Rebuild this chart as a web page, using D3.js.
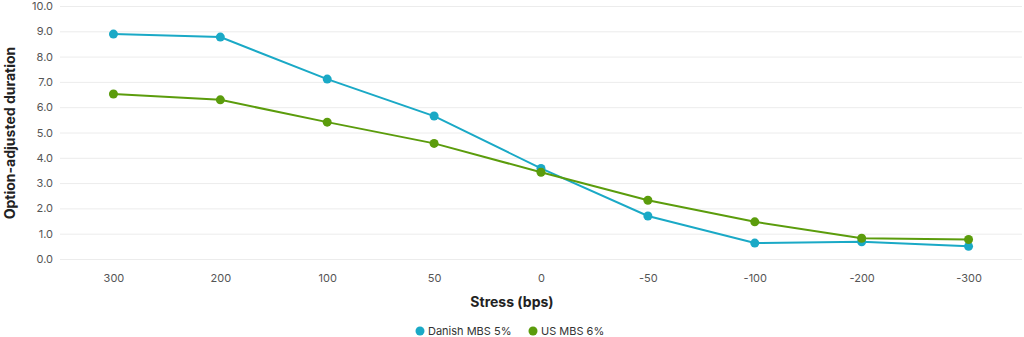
<!DOCTYPE html>
<html>
<head>
<meta charset="utf-8">
<script src="https://cdn.jsdelivr.net/npm/d3@7"></script>
<style>
  body { margin: 0; background: #fff; }
  svg { font-family: Inter, "Noto Sans", sans-serif; }
</style>
</head>
<body>
<div id="chart"></div>
<script>
var categories = ["300", "200", "100", "50", "0", "-50", "-100", "-200", "-300"];
var danish = [8.89, 8.77, 7.11, 5.65, 3.58, 1.70, 0.63, 0.68, 0.50];
var us = [6.52, 6.29, 5.41, 4.57, 3.43, 2.32, 1.47, 0.82, 0.77];
var yTicks = [0, 1, 2, 3, 4, 5, 6, 7, 8, 9, 10];
var seriesNames = ["Danish MBS 5%", "US MBS 6%"];
var seriesColors = ["#1aa9c6", "#5b9c0c"];

var width = 1024, height = 337;
var margin = {top: 6, right: 2, bottom: 78, left: 60};

var svg = d3.select("#chart").append("svg")
    .attr("width", width)
    .attr("height", height);

var x = d3.scalePoint()
    .domain(categories)
    .range([margin.left, width - margin.right])
    .padding(0.5);

var y = d3.scaleLinear()
    .domain([0, 10])
    .range([259, margin.top]);

// grid
svg.append("g")
    .selectAll("line")
    .data(yTicks)
    .enter().append("line")
    .attr("x1", margin.left)
    .attr("x2", width - margin.right)
    .attr("y1", function(d) { return y(d) + 0.5; })
    .attr("y2", function(d) { return y(d) + 0.5; })
    .attr("stroke", "#ececec")
    .attr("stroke-width", 1);

// y axis
var yAxis = svg.append("g")
    .attr("transform", "translate(" + 53 + ",0)")
    .call(d3.axisLeft(y).tickValues(yTicks).tickFormat(d3.format(".1f")).tickSize(0).tickPadding(0));
yAxis.select(".domain").remove();
yAxis.selectAll("text").attr("fill", "#555").attr("font-size", 11).attr("font-family", "Inter, sans-serif");

// x axis
var xAxis = svg.append("g")
    .attr("transform", "translate(0," + 274 + ")")
    .call(d3.axisBottom(x).tickSize(0).tickPadding(0));
xAxis.select(".domain").remove();
xAxis.selectAll("text").attr("fill", "#555").attr("font-size", 11).attr("font-family", "Inter, sans-serif");

// titles
svg.append("text")
    .attr("x", 512)
    .attr("y", 307)
    .attr("text-anchor", "middle")
    .attr("font-size", 14)
    .attr("font-weight", "bold")
    .attr("fill", "#222")
    .text("Stress (bps)");

svg.append("text")
    .attr("transform", "translate(15,133) rotate(-90)")
    .attr("text-anchor", "middle")
    .attr("font-size", 14)
    .attr("font-weight", "bold")
    .attr("fill", "#222")
    .text("Option-adjusted duration");

// lines
var allSeries = [danish, us];
var line = d3.line()
    .x(function(d, i) { return x(categories[i]); })
    .y(function(d) { return y(d); });

allSeries.forEach(function(vals, s) {
  svg.append("path")
      .datum(vals)
      .attr("fill", "none")
      .attr("stroke", seriesColors[s])
      .attr("stroke-width", 2)
      .attr("d", line);
  svg.append("g")
      .selectAll("circle")
      .data(vals)
      .enter().append("circle")
      .attr("cx", function(d, i) { return x(categories[i]); })
      .attr("cy", function(d) { return y(d); })
      .attr("r", 4.5)
      .attr("fill", seriesColors[s]);
});

// legend
var legendX = [420, 533];
seriesNames.forEach(function(name, s) {
  svg.append("circle")
      .attr("cx", legendX[s])
      .attr("cy", 331)
      .attr("r", 4.5)
      .attr("fill", seriesColors[s]);
  svg.append("text")
      .attr("x", legendX[s] + 8)
      .attr("y", 335)
      .attr("font-size", 11)
      .attr("fill", "#333")
      .text(name);
});
</script>
</body>
</html>
